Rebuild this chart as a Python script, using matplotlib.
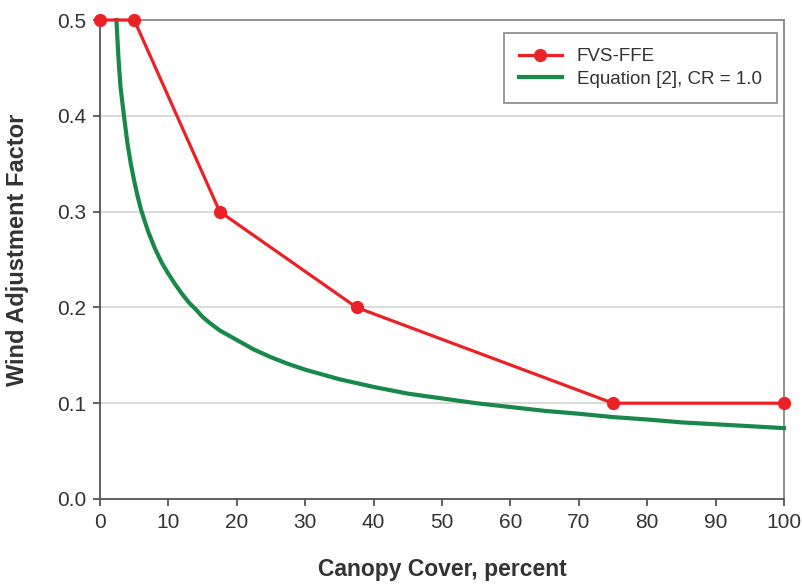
"""Wind adjustment factor vs canopy cover: FVS-FFE steps against Equation [2]."""

import matplotlib

matplotlib.use("Agg")
import matplotlib.pyplot as plt

plt.rcParams["font.family"] = ["Liberation Sans", "DejaVu Sans"]

# FVS-FFE lookup values
ffe_cover = [0, 5, 17.5, 37.5, 75, 100]
ffe_waf = [0.5, 0.5, 0.3, 0.2, 0.1, 0.1]

# Equation [2] with crown ratio 1.0
eq_cover = [2.4, 2.7, 3, 3.5, 4, 4.5, 5, 5.5, 6, 7, 8, 9, 10, 11, 12, 13, 14,
             15, 16, 17.5, 20, 22.5, 25, 27.5, 30, 32.5, 35, 40, 45, 50, 55,
             60, 65, 70, 75, 80, 85, 90, 95, 100]
eq_waf = [0.50, 0.46, 0.43, 0.40, 0.372, 0.35, 0.332, 0.316, 0.302, 0.28,
          0.262, 0.247, 0.235, 0.224, 0.214, 0.205, 0.198, 0.19, 0.184, 0.176,
          0.166, 0.156, 0.148, 0.141, 0.135, 0.130, 0.125, 0.117, 0.110,
          0.105, 0.100, 0.096, 0.092, 0.089, 0.0855, 0.083, 0.080, 0.078,
          0.076, 0.074]

RED = "#ec2127"
GREEN = "#18894a"
TEXT = "#333333"

fig = plt.figure(figsize=(8.02, 5.86), dpi=100)
ax = fig.add_axes([100 / 802, 1 - 499 / 586, 684 / 802, 479 / 586])

ax.plot(ffe_cover, ffe_waf, color=RED, lw=2.3, marker="o", ms=8.5,
        label="FVS-FFE", zorder=4, clip_on=False)
ax.plot(eq_cover, eq_waf, color=GREEN, lw=3.0, solid_joinstyle="round",
        label="Equation [2], CR = 1.0", zorder=3, clip_on=False)

ax.set_xlim(0, 100)
ax.set_ylim(0, 0.5)
ax.set_xticks(range(0, 101, 10))
ax.set_yticks([0.0, 0.1, 0.2, 0.3, 0.4, 0.5])
ax.set_yticklabels([f"{v:.1f}" for v in [0.0, 0.1, 0.2, 0.3, 0.4, 0.5]])
ax.yaxis.grid(True, color="#d4d4d4", lw=1.2)
ax.set_axisbelow(True)

for side in ("left", "bottom"):
    ax.spines[side].set_color("#555555")
    ax.spines[side].set_linewidth(1.3)
for side in ("top", "right"):
    ax.spines[side].set_color("#888888")
    ax.spines[side].set_linewidth(1.3)

ax.tick_params(direction="out", length=5, width=1.3, color="#555555",
               labelsize=15, labelcolor=TEXT, pad=5)

ax.set_xlabel("Canopy Cover, percent", fontsize=16.5, fontweight="bold",
              color=TEXT, labelpad=19)
ax.set_ylabel("Wind Adjustment Factor", fontsize=17, fontweight="bold",
              color=TEXT)
ax.yaxis.set_label_coords(-0.104, 0.52)

leg = ax.legend(loc="upper right", bbox_to_anchor=(677 / 684, 466 / 479),
                fontsize=13.5, frameon=True, fancybox=False, borderpad=0.8,
                handlelength=2.3, labelspacing=0.3, borderaxespad=0)
leg.get_frame().set_edgecolor("#777777")
leg.get_frame().set_linewidth(1.3)
for t in leg.get_texts():
    t.set_color(TEXT)

fig.savefig("out.png", dpi=100)
plt.close(fig)
